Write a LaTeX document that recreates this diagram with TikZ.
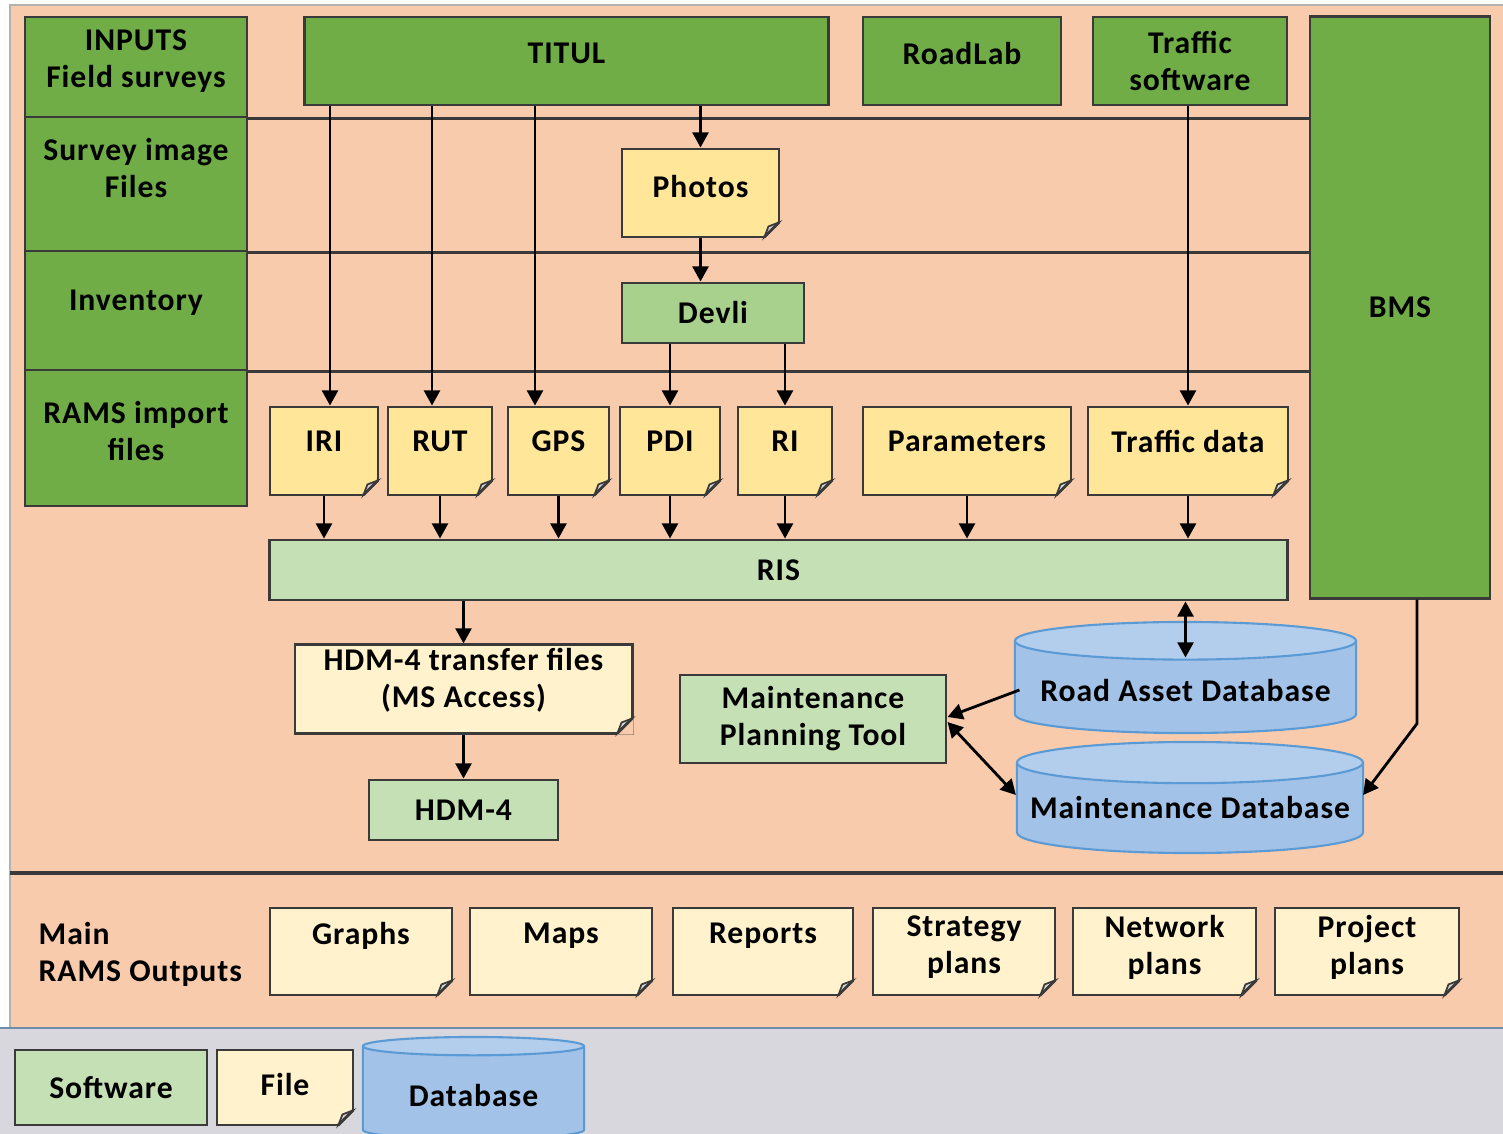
\documentclass[tikz,border=0pt]{standalone}
\usepackage{fontspec}
\setmainfont{Carlito}[LetterSpace=3]
\usetikzlibrary{shapes.geometric, arrows.meta}

\definecolor{peach}{HTML}{F8CBAD}
\definecolor{dkgreen}{HTML}{70AD47}
\definecolor{ltgreen}{HTML}{C5E0B4}
\definecolor{midgreen}{HTML}{A9D18E}
\definecolor{fileyel}{HTML}{FFE699}
\definecolor{filelt}{HTML}{FFF2CC}
\definecolor{dbbody}{HTML}{A3C2E8}
\definecolor{dbtop}{HTML}{B3CDED}
\definecolor{dbline}{HTML}{5B9BD5}
\definecolor{legendgray}{HTML}{D8D7DD}
\definecolor{outline}{HTML}{3A3A3A}

% folded corner of a file box: #1 node, #2 colour behind it
\newcommand{\fold}[2]{%
	\fill[#2] (#1.south east) -- ++(-17,0) -- ++(17,-17) -- cycle;
	\filldraw[fill=gray!30, draw=outline, line width=0.5pt] (#1.south east) ++(-16,-1.4) -- ++(14.6,-14.6) -- ++(-10.6,4) -- cycle;
	\draw[outline, line width=0.8pt] (#1.south east) ++(-16,-1.4) -- ++(14.6,-14.6);}

\begin{document}
\begin{tikzpicture}[x=0.01cm, y=-0.01cm, font=\fontsize{9}{10.5}\selectfont\bfseries,
		box/.style={draw=outline, line width=0.8pt, align=center, inner sep=1pt},
		soft/.style={box, fill=dkgreen},
		tool/.style={box, fill=ltgreen},
		file/.style={box, fill=fileyel, minimum height=0.88cm, text depth=0.2cm},
		outfile/.style={file, fill=filelt, minimum height=0.87cm},
		db/.style={cylinder, shape border rotate=90, aspect=0.12, anchor=shape center, draw=dbline, line width=0.6pt, cylinder uses custom fill, cylinder body fill=dbbody, cylinder end fill=dbtop, align=center},
		link/.style={line width=0.8pt, -{Triangle[length=4.3pt, width=4.5pt]}},
		both/.style={line width=0.8pt, {Triangle[length=4.3pt, width=4.5pt]}-{Triangle[length=4.3pt, width=4.5pt]}},
		lane/.style={draw=outline, line width=0.9pt}]
		\useasboundingbox (0,0) rectangle (1503,1134);

		% backgrounds
		\fill[white] (0,0) rectangle (1503,1134);
		\fill[legendgray] (0,1028) rectangle (1503,1134);
		\filldraw[fill=peach, draw=gray!60] (10,5) rectangle (1510,1028);
		\draw[dbline!50!gray, line width=0.6pt] (0,1028) -- (1503,1028);
		\draw[lane] (10,873) -- (1503,873);

		% left column
		\node[soft, minimum width=2.22cm, minimum height=1cm, text depth=0.16cm] (inputs) at (136,67) {INPUTS\\Field surveys};
		\node[soft, minimum width=2.22cm, minimum height=1.34cm, text depth=0.32cm] (survey) at (136,184) {Survey image\\Files};
		\node[soft, minimum width=2.22cm, minimum height=1.19cm, text depth=0.2cm] (inventory) at (136,310.5) {Inventory};
		\node[soft, minimum width=2.22cm, minimum height=1.36cm, text depth=0.14cm] (ramsin) at (136,438) {RAMS import\\files};

		% software on top
		\node[soft, minimum width=5.23cm, minimum height=0.88cm, text depth=0.16cm] (titul) at (566.5,61) {TITUL};
		\node[soft, minimum width=1.98cm, minimum height=0.88cm, text depth=0.16cm] (roadlab) at (962,61) {RoadLab};
		\node[soft, minimum width=1.94cm, minimum height=0.88cm] (trafsw) at (1190,61) {Traffic\\software};
		\node[soft, minimum width=1.8cm, minimum height=5.81cm] (bms) at (1400,307.5) {BMS};

		\draw[lane] (inputs.south east) -- (inputs.south east -| bms.west);
		\draw[lane] (survey.south east) -- (survey.south east -| bms.west);
		\draw[lane] (inventory.south east) -- (inventory.south east -| bms.west);

		\node[file, minimum width=1.57cm, text depth=0.14cm] (photos) at (700.5,193) {Photos};
		\node[box, fill=midgreen, minimum width=1.82cm, minimum height=0.6cm] (devli) at (713,313) {Devli};

		% import files
		\node[file, minimum width=1.08cm] (iri) at (324,451) {IRI};
		\node[file, minimum width=1.04cm] (rut) at (440,451) {RUT};
		\node[file, minimum width=1.01cm] (gps) at (558.5,451) {GPS};
		\node[file, minimum width=1cm] (pdi) at (670,451) {PDI};
		\node[file, minimum width=0.94cm] (ri) at (785,451) {RI};
		\node[file, minimum width=2.08cm] (params) at (967,451) {Parameters};
		\node[file, minimum width=2cm] (trafdata) at (1188,451) {Traffic data};

		\node[tool, minimum width=10.17cm, minimum height=0.6cm] (ris) at (778.5,570) {RIS};
		\node[file, fill=filelt, minimum width=3.37cm, text depth=0.22cm] (hdmfiles) at (463.5,689) {HDM-4 transfer files\\(MS Access)};
		\node[tool, minimum width=1.89cm, minimum height=0.6cm] (hdm) at (463.5,810) {HDM-4};
		\node[tool, minimum width=2.66cm, minimum height=0.88cm] (mpt) at (813,719) {Maintenance\\Planning Tool};
		\node[db, minimum width=3.41cm, minimum height=1.11cm] (roaddb) at (1185.5,677.5) {Road Asset Database};
		\node[db, minimum width=3.46cm, minimum height=1.11cm, text depth=0.1cm] (maintdb) at (1190,797.5) {Maintenance Database};

		% outputs
		\node[anchor=west, align=left, inner sep=0pt] (mainout) at (38,954) {Main\\RAMS Outputs};
		\node[outfile, minimum width=1.82cm, text depth=0.36cm] (graphs) at (361,951.5) {Graphs};
		\node[outfile, minimum width=1.82cm, text depth=0.36cm] (maps) at (561,951.5) {Maps};
		\node[outfile, minimum width=1.8cm, text depth=0.36cm] (reports) at (763,951.5) {Reports};
		\node[outfile, minimum width=1.82cm, text depth=0.13cm] (strategy) at (964,951.5) {Strategy\\plans};
		\node[outfile, minimum width=1.83cm, text depth=0.13cm] (network) at (1164.5,951.5) {Network\\plans};
		\node[outfile, minimum width=1.84cm, text depth=0.13cm] (project) at (1367,951.5) {Project\\plans};

		% legend
		\node[tool, minimum width=1.92cm, minimum height=0.75cm] (lsoft) at (111,1087.5) {Software};
		\node[file, fill=filelt, minimum width=1.36cm, minimum height=0.75cm, text depth=0.06cm] (lfile) at (285,1087.5) {File};
		\node[db, minimum width=2.21cm, minimum height=1.02cm] (ldb) at (473.5,1088) {Database};

		\fold{photos}{peach}
		\fold{iri}{peach}
		\fold{rut}{peach}
		\fold{gps}{peach}
		\fold{pdi}{peach}
		\fold{ri}{peach}
		\fold{params}{peach}
		\fold{trafdata}{peach}
		\fold{hdmfiles}{peach}
		\fold{graphs}{peach}
		\fold{maps}{peach}
		\fold{reports}{peach}
		\fold{strategy}{peach}
		\fold{network}{peach}
		\fold{project}{peach}
		\fold{lfile}{legendgray}

		% connectors
		\coordinate (iridrop) at ([xshift=0.06cm]iri.north);
		\coordinate (rutdrop) at ([xshift=-0.08cm]rut.north);
		\coordinate (gpsdrop) at ([xshift=-0.235cm]gps.north);
		\draw[link] (iridrop |- titul.south) -- (iridrop);
		\draw[link] (rutdrop |- titul.south) -- (rutdrop);
		\draw[link] (gpsdrop |- titul.south) -- (gpsdrop);
		\draw[link] (titul.south -| photos.north) -- (photos.north);
		\draw[link] (photos.south) -- (photos.south |- devli.north);
		\draw[link] (devli.south -| pdi.north) -- (pdi.north);
		\draw[link] (devli.south -| ri.north) -- (ri.north);
		\draw[link] (trafsw.south -| trafdata.north) -- (trafdata.north);

		\draw[link] (iri.south) -- (iri.south |- ris.north);
		\draw[link] (rut.south) -- (rut.south |- ris.north);
		\draw[link] (gps.south) -- (gps.south |- ris.north);
		\draw[link] (pdi.south) -- (pdi.south |- ris.north);
		\draw[link] (ri.south) -- (ri.south |- ris.north);
		\draw[link] (params.south) -- (params.south |- ris.north);
		\draw[link] (trafdata.south) -- (trafdata.south |- ris.north);

		\draw[link] (ris.south -| hdmfiles.north) -- (hdmfiles.north);
		\draw[link] (hdmfiles.south) -- (hdm.north);
		\draw[both] (ris.south -| roaddb.shape center) -- ([yshift=0.2cm]roaddb.shape center);
		\draw[link] ([xshift=-1.66cm, yshift=-0.125cm]roaddb.shape center) -- ([yshift=0.02cm]mpt.east);
		\draw[both] ([yshift=-0.03cm]mpt.east) -- ([xshift=-1.74cm, yshift=0.025cm]maintdb.shape center);
		\draw[link] ([xshift=0.17cm]bms.south) -- ++(0,124) -- ([xshift=1.73cm, yshift=0.025cm]maintdb.shape center);
	\end{tikzpicture}
\end{document}
